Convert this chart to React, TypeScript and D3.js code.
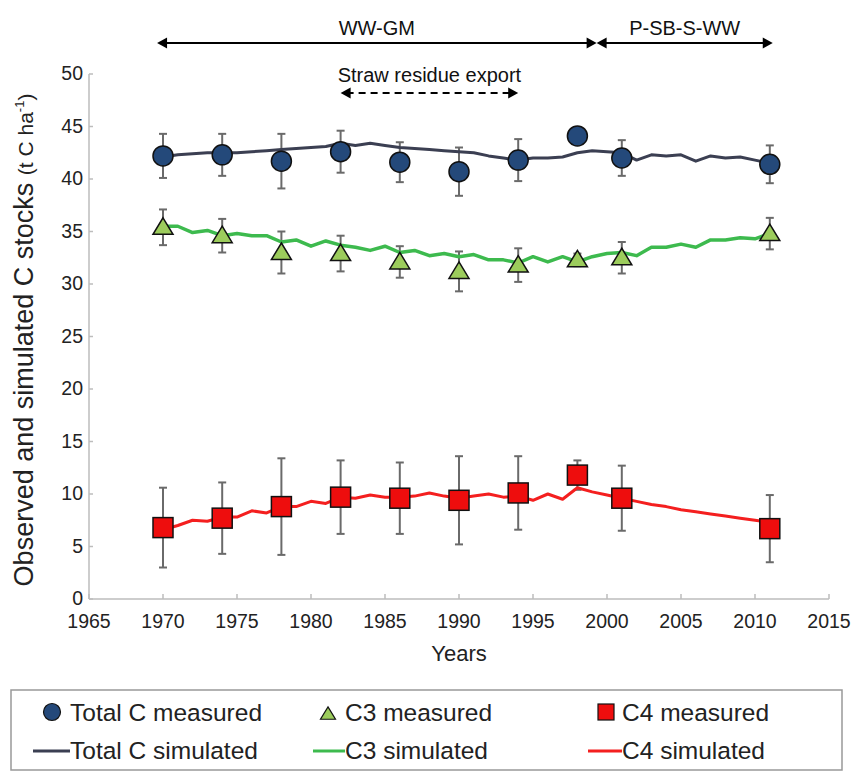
import React from 'react';
import * as d3 from 'd3';

const W = 853;
const H = 772;

const xTicks = [1965, 1970, 1975, 1980, 1985, 1990, 1995, 2000, 2005, 2010, 2015];
const yTicks = [0, 5, 10, 15, 20, 25, 30, 35, 40, 45, 50];

const measuredYears = [1970, 1974, 1978, 1982, 1986, 1990, 1994, 1998, 2001, 2011];
const totalMeasured = [42.2, 42.3, 41.7, 42.6, 41.6, 40.7, 41.8, 44.1, 42.0, 41.4];
const totalErr = [2.1, 2.0, 2.6, 2.0, 1.9, 2.3, 2.0, 0, 1.7, 1.8];
const c3Measured = [35.4, 34.6, 33.0, 32.9, 32.1, 31.2, 31.8, 32.3, 32.5, 34.8];
const c3Err = [1.7, 1.6, 2.0, 1.7, 1.5, 1.9, 1.6, 0.6, 1.5, 1.5];
const c4Measured = [6.8, 7.7, 8.8, 9.7, 9.6, 9.4, 10.1, 11.8, 9.6, 6.7];
const c4Err = [3.8, 3.4, 4.6, 3.5, 3.4, 4.2, 3.5, 1.4, 3.1, 3.2];

const simYears = [1970, 1971, 1972, 1973, 1974, 1975, 1976, 1977, 1978, 1979,
  1980, 1981, 1982, 1983, 1984, 1985, 1986, 1987, 1988, 1989,
  1990, 1991, 1992, 1993, 1994, 1995, 1996, 1997, 1998, 1999,
  2000, 2001, 2002, 2003, 2004, 2005, 2006, 2007, 2008, 2009, 2010, 2011];
const totalSim = [42.1, 42.3, 42.4, 42.5, 42.5, 42.5, 42.6, 42.7, 42.8, 42.9,
  43.0, 43.1, 43.4, 43.2, 43.4, 43.2, 43.0, 42.9, 42.8, 42.7,
  42.6, 42.5, 42.2, 42.0, 41.8, 42.0, 42.0, 42.1, 42.5, 42.7,
  42.6, 42.5, 41.8, 42.3, 42.2, 42.3, 41.7, 42.2, 42.0, 42.1, 41.8, 41.5];
const c3Sim = [35.5, 35.5, 34.9, 35.1, 34.6, 34.8, 34.6, 34.6, 34.0, 34.2,
  33.6, 34.1, 33.7, 33.5, 33.2, 33.6, 33.0, 33.2, 32.7, 32.9,
  32.6, 32.8, 32.3, 32.3, 32.0, 32.6, 32.1, 32.6, 32.1, 32.6,
  32.9, 33.0, 32.7, 33.5, 33.5, 33.8, 33.5, 34.2, 34.2, 34.4, 34.3, 34.8];
const c4Sim = [6.6, 7.0, 7.5, 7.4, 7.8, 7.8, 8.4, 8.2, 8.8, 8.8,
  9.3, 9.1, 9.7, 9.6, 9.9, 9.7, 9.7, 9.8, 10.1, 9.8,
  9.6, 9.8, 10.0, 9.7, 9.8, 9.4, 10.0, 9.5, 10.6, 10.2,
  9.9, 9.6, 9.3, 9.0, 8.8, 8.5, 8.3, 8.1, 7.9, 7.7, 7.5, 7.3];

const periodLabels = ['WW-GM', 'P-SB-S-WW'];
const periodStart = [1969.6, 1999.3];
const periodEnd = [1999.3, 2011.2];
const exportLabel = 'Straw residue export';
const exportStart = 1982;
const exportEnd = 1994;

const FONT = "'Liberation Sans', Arial, Helvetica, sans-serif";
const C_TOTAL_FILL = '#24497a';
const C_TOTAL_LINE = '#3b3f52';
const C_C3_FILL = '#9ccc5c';
const C_C3_LINE = '#3dba4e';
const C_C4_FILL = '#ee0d0d';
const C_C4_LINE = '#f41f1f';
const ERR = '#6a6a6a';
const AXIS = '#bdbdbd';
const TXT = '#222';

function ArrowHead({ x, y, dir }: { x: number; y: number; dir: number }) {
  const L = 10, h = 5.5;
  return <path d={`M${x},${y} L${x - dir * L},${y - h} L${x - dir * L},${y + h} Z`} fill="#000" />;
}

export default function App() {
  const x = d3.scaleLinear().domain([1965, 2015]).range([89, 829]);
  const y = d3.scaleLinear().domain([0, 50]).range([599, 74]);

  const line = d3.line<[number, number]>().x(d => x(d[0])).y(d => y(d[1]));
  const sim = (vals: number[]) => line(simYears.map((yr, i) => [yr, vals[i]] as [number, number])) || '';

  const errBars = (vals: number[], errs: number[]) =>
    measuredYears.map((yr, i) => {
      if (!errs[i]) return null;
      const cx = x(yr);
      const y1 = y(vals[i] + errs[i]);
      const y2 = y(vals[i] - errs[i]);
      return (
        <g key={yr} stroke={ERR} strokeWidth={2}>
          <line x1={cx} x2={cx} y1={y1} y2={y2} />
          <line x1={cx - 4} x2={cx + 4} y1={y1} y2={y1} />
          <line x1={cx - 4} x2={cx + 4} y1={y2} y2={y2} />
        </g>
      );
    });

  const tri = (cx: number, cy: number, s: number) =>
    `M${cx},${cy - s * 0.95} L${cx + s},${cy + s * 0.7} L${cx - s},${cy + s * 0.7} Z`;

  const yAxisX = x(1965);
  const xAxisY = y(0);

  return (
    <svg width={W} height={H} style={{ position: 'absolute', left: 0, top: 0, background: '#fff' }}
      fontFamily={FONT}>
      <rect x={0} y={0} width={W} height={H} fill="#fff" />
      {/* axes */}
      <line x1={yAxisX} x2={yAxisX} y1={y(50)} y2={xAxisY} stroke={AXIS} strokeWidth={1.5} />
      <line x1={yAxisX} x2={x(2015)} y1={xAxisY} y2={xAxisY} stroke={AXIS} strokeWidth={1.5} />
      {yTicks.map(t => (
        <g key={t}>
          <line x1={yAxisX} x2={yAxisX + 4} y1={y(t)} y2={y(t)} stroke={AXIS} strokeWidth={1.5} />
          <text x={yAxisX - 6} y={y(t)} dy="0.33em" textAnchor="end" fontSize={19.5} fill={TXT}>{t}</text>
        </g>
      ))}
      {xTicks.map(t => (
        <g key={t}>
          <line x1={x(t)} x2={x(t)} y1={xAxisY} y2={xAxisY - 5} stroke={AXIS} strokeWidth={1.5} />
          <text x={x(t)} y={xAxisY + 29} textAnchor="middle" fontSize={19.5} fill={TXT}>{t}</text>
        </g>
      ))}
      <text x={x(1990)} y={661} textAnchor="middle" fontSize={22} fill={TXT}>Years</text>
      <text transform={`translate(33,340) rotate(-90)`} textAnchor="middle" fontSize={27} fill={TXT}>
        Observed and simulated C stocks <tspan fontSize={21}>(t C ha</tspan><tspan fontSize={13} dy={-9}>-1</tspan><tspan fontSize={21} dy={9}>)</tspan>
      </text>

      {/* annotations */}
      {periodLabels.map((lab, i) => {
        const x1 = x(periodStart[i]);
        const x2 = x(periodEnd[i]);
        return (
          <g key={lab}>
            <line x1={x1 + 6} x2={x2 - 6} y1={43} y2={43} stroke="#000" strokeWidth={2} />
            <ArrowHead x={x1} y={43} dir={-1} />
            <ArrowHead x={x2} y={43} dir={1} />
            <text x={(x1 + x2) / 2} y={35} textAnchor="middle" fontSize={20} fill="#111">{lab}</text>
          </g>
        );
      })}
      <text x={(x(exportStart) + x(exportEnd)) / 2} y={82} textAnchor="middle" fontSize={20} fill="#111">{exportLabel}</text>
      <line x1={x(exportStart) + 6} x2={x(exportEnd) - 6} y1={93} y2={93} stroke="#000" strokeWidth={2} strokeDasharray="7,5" />
      <ArrowHead x={x(exportStart)} y={93} dir={-1} />
      <ArrowHead x={x(exportEnd)} y={93} dir={1} />

      {/* error bars */}
      {errBars(totalMeasured, totalErr)}
      {errBars(c3Measured, c3Err)}
      {errBars(c4Measured, c4Err)}

      {/* simulated lines */}
      <path d={sim(totalSim)} fill="none" stroke={C_TOTAL_LINE} strokeWidth={3} strokeLinejoin="round" />
      <path d={sim(c3Sim)} fill="none" stroke={C_C3_LINE} strokeWidth={3.5} strokeLinejoin="round" />
      <path d={sim(c4Sim)} fill="none" stroke={C_C4_LINE} strokeWidth={3} strokeLinejoin="round" />

      {/* measured markers */}
      {measuredYears.map((yr, i) => (
        <circle key={'t' + yr} cx={x(yr)} cy={y(totalMeasured[i])} r={10} fill={C_TOTAL_FILL} stroke="#111" strokeWidth={1.5} />
      ))}
      {measuredYears.map((yr, i) => (
        <path key={'c3' + yr} d={tri(x(yr), y(c3Measured[i]), 10)} fill={C_C3_FILL} stroke="#111" strokeWidth={1.5} />
      ))}
      {measuredYears.map((yr, i) => (
        <rect key={'c4' + yr} x={x(yr) - 10} y={y(c4Measured[i]) - 10} width={20} height={20} fill={C_C4_FILL} stroke="#111" strokeWidth={1.5} />
      ))}

      {/* legend */}
      <rect x={11} y={690} width={831} height={80} fill="#fff" stroke="#999" strokeWidth={1.5} />
      <g fontSize={24.5} fill={TXT}>
        <circle cx={52} cy={712} r={8.5} fill={C_TOTAL_FILL} stroke="#111" strokeWidth={1.2} />
        <text x={70} y={721}>Total C measured</text>
        <path d={tri(328, 714, 7.5)} fill={C_C3_FILL} stroke="#111" strokeWidth={1.2} />
        <text x={345} y={721}>C3 measured</text>
        <rect x={598} y={704} width={16} height={16} fill={C_C4_FILL} stroke="#111" strokeWidth={1.2} />
        <text x={622} y={721}>C4 measured</text>

        <line x1={33} x2={70} y1={751} y2={751} stroke={C_TOTAL_LINE} strokeWidth={3} />
        <text x={70} y={759}>Total C simulated</text>
        <line x1={313} x2={345} y1={751} y2={751} stroke={C_C3_LINE} strokeWidth={3} />
        <text x={345} y={759}>C3 simulated</text>
        <line x1={588} x2={622} y1={751} y2={751} stroke={C_C4_LINE} strokeWidth={3} />
        <text x={622} y={759}>C4 simulated</text>
      </g>
    </svg>
  );
}
